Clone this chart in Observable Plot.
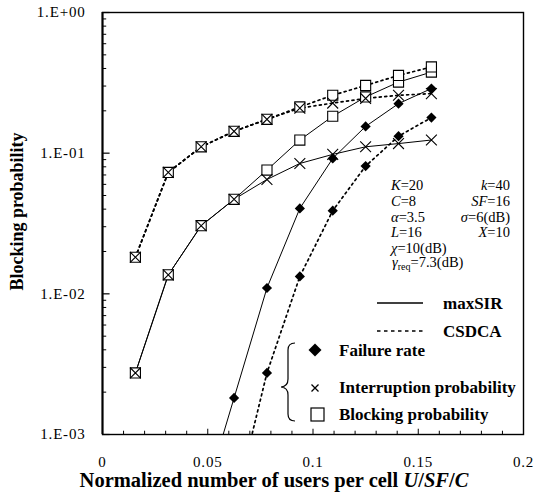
<!DOCTYPE html>
<html><head><meta charset="utf-8">
<script src="https://cdn.jsdelivr.net/npm/d3@7"></script>
<script src="https://cdn.jsdelivr.net/npm/@observablehq/plot@0.6"></script>
<style>
body{margin:0;background:#fff;}
#wrap{position:relative;width:534px;height:494px;font-family:"Liberation Serif","Times New Roman",serif;}
#wrap svg{position:absolute;left:0;top:0;}
g[aria-label="y-axis tick label"] text, g[aria-label="x-axis tick label"] text{letter-spacing:0.8px;}
</style></head><body><div id="wrap"></div>
<script>
// x: normalized number of users per cell U/SF/C
const xs = [0.015625, 0.03125, 0.046875, 0.0625, 0.078125, 0.09375, 0.109375, 0.125, 0.140625, 0.15625];
// maxSIR (solid)
const maxsirFailure   = [null, null, 0.0003, 0.00182, 0.011, 0.0405, 0.0917, 0.155, 0.225, 0.288];
const maxsirInterrupt = [0.00274, 0.01364, 0.0305, 0.047, 0.065, 0.0845, 0.098, 0.111, 0.117, 0.124];
const maxsirBlocking  = [0.00274, 0.01364, 0.0305, 0.047, 0.0758, 0.124, 0.183, 0.251, 0.32, 0.377];
// CSDCA (dotted)
const csdcaFailure    = [null, null, null, 0.0003, 0.00274, 0.0133, 0.039, 0.081, 0.132, 0.179];
const csdcaInterrupt  = [0.0182, 0.073, 0.111, 0.143, 0.174, 0.209, 0.227, 0.245, 0.258, 0.265];
const csdcaBlocking   = [0.0182, 0.073, 0.111, 0.143, 0.174, 0.213, 0.258, 0.303, 0.357, 0.41];

const xTicks = [0, 0.05, 0.1, 0.15, 0.2];
const yTicks = [1e-3, 1e-2, 1e-1, 1];

function rows(vals, method, measure) {
  return xs.map((x, i) => ({x, y: vals[i], method, measure})).filter(d => d.y != null);
}
const maxsir = [...rows(maxsirFailure, "maxSIR", "failure"), ...rows(maxsirInterrupt, "maxSIR", "interrupt"), ...rows(maxsirBlocking, "maxSIR", "blocking")];
const csdca = [...rows(csdcaFailure, "CSDCA", "failure"), ...rows(csdcaInterrupt, "CSDCA", "interrupt"), ...rows(csdcaBlocking, "CSDCA", "blocking")];
const all = [...maxsir, ...csdca];

const fmtY = d => { const e = Math.round(Math.log10(d)); return "1.E" + (e >= 0 ? "+" : "-") + String(Math.abs(e)).padStart(2, "0"); };

const yMinor = [];
for (let e = -3; e < 0; e++) for (let m = 2; m <= 9; m++) yMinor.push(m * Math.pow(10, e));
const xMinor = d3.range(1, 20).map(i => i / 100);

const chart = Plot.plot({
  width: 534, height: 494,
  marginLeft: 102, marginRight: 11, marginTop: 12, marginBottom: 60,
  x: {domain: [0, 0.2]},
  y: {type: "log", domain: [1e-3, 1]},
  style: {fontFamily: '"Liberation Serif","Times New Roman",serif', fontSize: "15px", color: "black", background: "white"},
  marks: [
    Plot.ruleY(yTicks, {y: d => d, x1: 0, x2: 0.0036, stroke: "black", strokeWidth: 1.2}),
    Plot.ruleY(yMinor, {y: d => d, x1: 0, x2: 0.002, stroke: "black", strokeWidth: 1}),
    Plot.ruleX(xMinor, {x: d => d, y1: 1e-3, y2: d => (Math.round(d * 100) % 5 === 0 ? 1.09e-3 : 1.055e-3), stroke: "black", strokeWidth: 1}),
    Plot.line(maxsir, {x: "x", y: "y", z: "measure", stroke: "black", strokeWidth: 1, clip: true}),
    Plot.line(csdca, {x: "x", y: "y", z: "measure", stroke: "black", strokeWidth: 1.7, strokeDasharray: "2,3.5", clip: true}),
    Plot.dot(all.filter(d => d.measure === "blocking"), {x: "x", y: "y", symbol: "square", r: 5.7, fill: "white", stroke: "black", strokeWidth: 1.1, clip: true}),
    Plot.dot(all.filter(d => d.measure === "interrupt"), {x: "x", y: "y", symbol: "times", r: 5, stroke: "black", strokeWidth: 1.1, clip: true}),
    Plot.dot(all.filter(d => d.measure === "failure"), {x: "x", y: "y", symbol: "diamond2", r: 4.6, fill: "black", clip: true}),
    Plot.frame({stroke: "black", strokeWidth: 1.4}),
    Plot.ruleX([0], {stroke: "black", strokeWidth: 2}),
    Plot.axisY({ticks: yTicks, tickSize: 0, tickPadding: 17, tickFormat: fmtY, label: null, fontSize: 15}),
    Plot.axisX({ticks: xTicks, tickSize: 0, tickPadding: 22, tickFormat: d => String(d), label: null, fontSize: 15})
  ]
});
const wrap = document.getElementById("wrap");
wrap.appendChild(chart);

// annotations overlay (parameters, legend, axis titles)
const ns = "http://www.w3.org/2000/svg";
const ov = document.createElementNS(ns, "svg");
ov.setAttribute("width", 534); ov.setAttribute("height", 494);
ov.setAttribute("style", "font-family:'Liberation Serif','Times New Roman',serif;pointer-events:none;");
ov.innerHTML = `
<g font-size="14.5" fill="black">
  <text x="391" y="190"><tspan font-style="italic">K</tspan>=20</text>
  <text x="510" y="190" text-anchor="end"><tspan font-style="italic">k</tspan>=40</text>
  <text x="391" y="206"><tspan font-style="italic">C</tspan>=8</text>
  <text x="510" y="206" text-anchor="end"><tspan font-style="italic">SF</tspan>=16</text>
  <text x="391" y="221.5"><tspan font-style="italic">α</tspan>=3.5</text>
  <text x="510" y="221.5" text-anchor="end"><tspan font-style="italic">σ</tspan>=6(dB)</text>
  <text x="391" y="237"><tspan font-style="italic">L</tspan>=16</text>
  <text x="510" y="237" text-anchor="end"><tspan font-style="italic">X</tspan>=10</text>
  <text x="391" y="252.5"><tspan font-style="italic">χ</tspan>=10(dB)</text>
  <text x="392" y="267"><tspan font-style="italic">γ</tspan><tspan font-size="10" dy="3">req</tspan><tspan dy="-3">=7.3(dB)</tspan></text>
</g>
<g stroke="black" fill="none">
  <line x1="377" y1="303" x2="423" y2="303" stroke-width="1.3"/>
  <line x1="377" y1="331" x2="423" y2="331" stroke-width="1.3" stroke-dasharray="3.5,3.5"/>
  <path d="M295,343 Q288,343 288,350 L288,379 Q288,386.5 281,387 Q288,387.5 288,395 L288,414 Q288,421 295,421" stroke-width="1.2"/>
  <path d="M311.5,384.5 L318.5,391.5 M318.5,384.5 L311.5,391.5" stroke-width="1.3"/>
  <rect x="311" y="408" width="13" height="13" stroke-width="1.2" fill="white"/>
</g>
<path d="M315,343.5 L321.5,350 L315,356.5 L308.5,350 Z" fill="black"/>
<g font-size="17" font-weight="bold" fill="black">
  <text x="443" y="309">maxSIR</text>
  <text x="443" y="337">CSDCA</text>
  <text x="339" y="356">Failure rate</text>
  <text x="339" y="393">Interruption probability</text>
  <text x="339" y="420">Blocking probability</text>
</g>
<g font-weight="bold" fill="black">
  <text font-size="18" transform="translate(23,211.5) rotate(-90)" text-anchor="middle">Blocking probability</text>
  <text font-size="20.5" x="274" y="487" text-anchor="middle">Normalized number of users per cell <tspan font-style="italic">U</tspan>/<tspan font-style="italic">SF</tspan>/<tspan font-style="italic">C</tspan></text>
</g>`;
wrap.appendChild(ov);
</script></body></html>
